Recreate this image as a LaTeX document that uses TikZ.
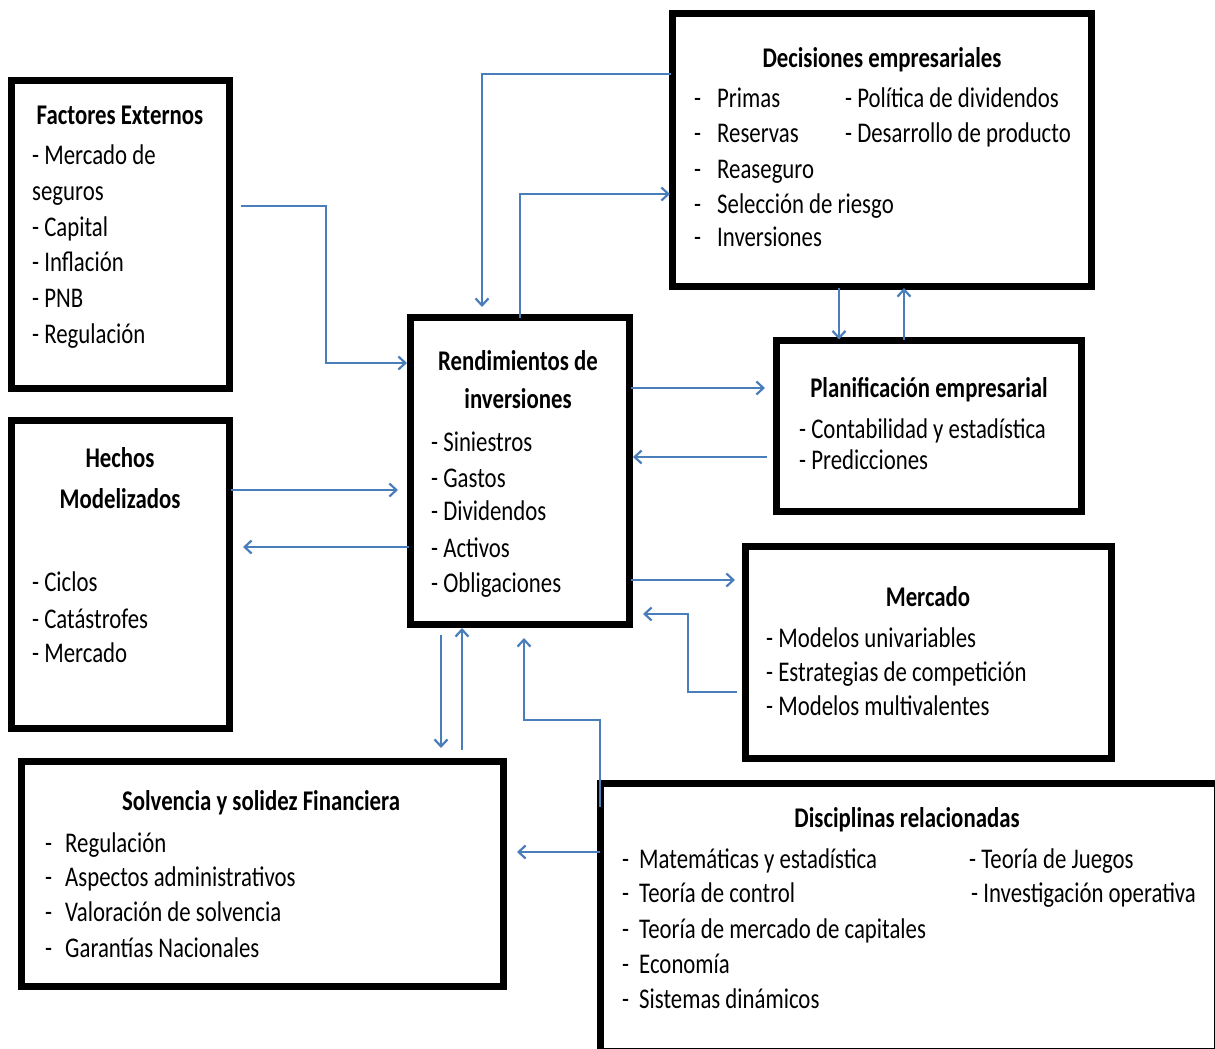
\documentclass[tikz,border=0pt]{standalone}
\usepackage{fontspec}
\setmainfont{Carlito}[FakeStretch=0.8]
\usetikzlibrary{arrows.meta}
\definecolor{arrowblue}{RGB}{74,126,187}
\begin{document}
\begin{tikzpicture}[x=1pt,y=-1pt,
  box/.style={draw=black, line width=7pt, rectangle, inner sep=0pt, outer sep=0pt, anchor=north west},
  ttl/.style={font=\bfseries\fontsize{28.5pt}{34pt}\selectfont, anchor=base, inner sep=0pt},
  itm/.style={font=\fontsize{28.5pt}{34pt}\selectfont, anchor=base west, inner sep=0pt},
  arr/.style={draw=arrowblue, line width=2.2pt, -{Straight Barb[length=7pt,width=13pt,line width=2.2pt]}},
]
\useasboundingbox (0,0) rectangle (1215,1049);
\fill[white] (0,0) rectangle (1215,1049);
\clip (0,0) rectangle (1215,1049);

% boxes
\node[box, minimum width=218pt, minimum height=308pt] (fact) at (11.5,80.5) {};
\node[box, minimum width=218pt, minimum height=308pt] (hech) at (11.5,420.5) {};
\node[box, minimum width=219pt, minimum height=307pt] (rend) at (410.5,317.5) {};
\node[box, minimum width=419pt, minimum height=273pt] (deci) at (672.5,13.5) {};
\node[box, minimum width=305pt, minimum height=171pt] (plan) at (776.5,340.5) {};
\node[box, minimum width=366pt, minimum height=212pt] (merc) at (745.5,546.5) {};
\node[box, minimum width=482pt, minimum height=225pt] (solv) at (21.5,761.5) {};
\node[box, minimum width=617pt, minimum height=267.5pt] (disc) at (600,783.5) {};

% Factores Externos
\node[ttl] (fact-t) at (120,124) {Factores Externos};
\foreach \t/\y [count=\i] in {- Mercado de/164, seguros/200, - Capital/236, - Inflación/271, - PNB/307, - Regulación/343}
  \node[itm] (fact-\i) at (32,\y) {\t};

% Hechos Modelizados
\node[ttl] (hech-t1) at (120,467) {Hechos};
\node[ttl] (hech-t2) at (120,508) {Modelizados};
\foreach \t/\y [count=\i] in {- Ciclos/591, - Catástrofes/628, - Mercado/662}
  \node[itm] (hech-\i) at (32,\y) {\t};

% Rendimientos de inversiones
\node[ttl] (rend-t1) at (518,370) {Rendimientos de};
\node[ttl] (rend-t2) at (518,408) {inversiones};
\foreach \t/\y [count=\i] in {- Siniestros/451, - Gastos/487, - Dividendos/520, - Activos/557, - Obligaciones/592}
  \node[itm] (rend-\i) at (431,\y) {\t};

% Decisiones empresariales
\node[ttl] (deci-t) at (882,67) {Decisiones empresariales};
\foreach \t/\y [count=\i] in {Primas/107, Reservas/142, Reaseguro/178, Selección de riesgo/213, Inversiones/246}
  \node[itm] (deci-\i) at (694,\y) {\makebox[23pt][l]{-}\t};
\node[itm] (deci-6) at (845,107) {- Política de dividendos};
\node[itm] (deci-7) at (845,142) {- Desarrollo de producto};

% Planificación empresarial
\node[ttl] (plan-t) at (929,397) {Planificación empresarial};
\node[itm] (plan-1) at (799,438) {- Contabilidad y estadística};
\node[itm] (plan-2) at (799,469) {- Predicciones};

% Mercado
\node[ttl] (merc-t) at (928,606) {Mercado};
\foreach \t/\y [count=\i] in {- Modelos univariables/647, - Estrategias de competición/681, - Modelos multivalentes/715}
  \node[itm] (merc-\i) at (766,\y) {\t};

% Solvencia
\node[ttl] (solv-t) at (261,810) {Solvencia y solidez Financiera};
\foreach \t/\y [count=\i] in {Regulación/852, Aspectos administrativos/886, Valoración de solvencia/921, Garantías Nacionales/957}
  \node[itm] (solv-\i) at (45,\y) {\makebox[20pt][l]{-}\t};

% Disciplinas relacionadas
\node[ttl] (disc-t) at (907,827) {Disciplinas relacionadas};
\foreach \t/\y [count=\i] in {Matemáticas y estadística/868, Teoría de control/902, Teoría de mercado de capitales/938, Economía/973, Sistemas dinámicos/1008}
  \node[itm] (disc-\i) at (622,\y) {\makebox[17pt][l]{-}\t};
\node[itm] (disc-6) at (969,868) {- Teoría de Juegos};
\node[itm] (disc-7) at (971,902) {- Investigación operativa};

% connectors
\draw[arr, shorten <=11.5pt, shorten >=3.5pt] (fact.east |- 0,206) -| (326,363) -- (rend.west |- 0,363);
\draw[arr, shorten <=1.5pt, shorten >=10.5pt] (deci.west |- 0,74) -| (rend.north -| 482,0);
\draw[arr, shorten >=2.5pt] (rend.north -| 520,0) |- (deci.west |- 0,194);
\draw[arr, shorten <=1.5pt, shorten >=12.5pt] (hech.east |- 0,490) -- (rend.west |- 0,490);
\draw[arr, shorten <=1.5pt, shorten >=13.5pt] (rend.west |- 0,547) -- (hech.east |- 0,547);
\draw[arr, shorten <=1.5pt, shorten >=11.5pt] (rend.east |- 0,388) -- (plan.west |- 0,388);
\draw[arr, shorten <=9.5pt, shorten >=3.5pt] (plan.west |- 0,457) -- (rend.east |- 0,457);
\draw[arr, shorten <=1pt, shorten >=1pt] (deci.south -| 839,0) -- (plan.north -| 839,0);
\draw[arr, shorten <=1pt, shorten >=1.5pt] (plan.north -| 904,0) -- (deci.south -| 904,0);
\draw[arr, shorten <=1.5pt, shorten >=10.5pt] (rend.east |- 0,580) -- (merc.west |- 0,580);
\draw[arr, shorten <=8.5pt, shorten >=13.5pt] (merc.west |- 0,692) -| (688,614) -- (rend.east |- 0,614);
\draw[arr, shorten <=10.5pt, shorten >=13.5pt] (rend.south -| 441,0) -- (solv.north -| 441,0);
\draw[arr, shorten <=11.5pt, shorten >=3.5pt] (solv.north -| 462,0) -- (rend.south -| 462,0);
\draw[arr, shorten >=13.5pt] (disc.north west |- 0,807) |- (524,720) -- (rend.south -| 524,0);
\draw[arr, shorten >=13.5pt] (disc.north west |- 0,852) -- (solv.east |- 0,852);
\end{tikzpicture}
\end{document}
